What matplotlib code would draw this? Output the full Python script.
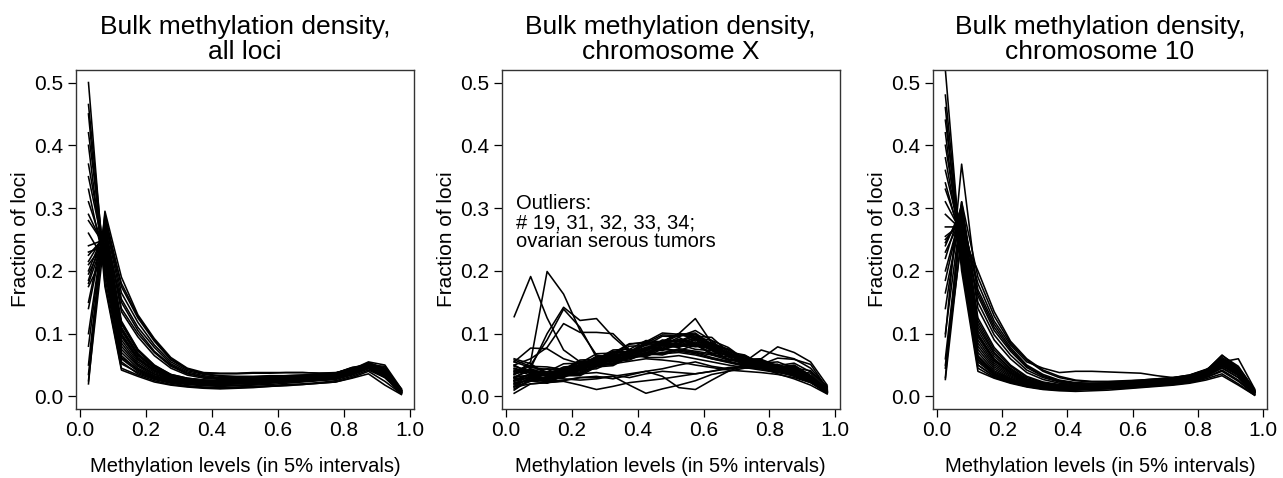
import numpy as np
import matplotlib
matplotlib.use('Agg')
import matplotlib.pyplot as plt

plt.rcParams['font.family'] = ['Liberation Sans', 'DejaVu Sans']

# bin centres (5% intervals)
levels = [0.025, 0.075, 0.125, 0.175, 0.225, 0.275, 0.325, 0.375, 0.425, 0.475,
          0.525, 0.575, 0.625, 0.675, 0.725, 0.775, 0.825, 0.875, 0.925, 0.975]

titles = ['Bulk methylation density,\nall loci',
          'Bulk methylation density,\nchromosome X',
          'Bulk methylation density,\nchromosome 10']

# fraction of loci per bin, one row per sample
all_loci = [
    [.500, .180, .045, .034, .025, .019, .016, .014, .013, .014, .015, .016, .018, .019, .021, .023, .030, .040, .024, .004],
    [.465, .200, .055, .036, .027, .021, .017, .015, .014, .015, .016, .017, .019, .020, .022, .025, .032, .042, .030, .005],
    [.450, .175, .042, .032, .023, .018, .015, .013, .012, .013, .014, .016, .017, .019, .021, .023, .029, .036, .018, .003],
    [.420, .215, .060, .040, .029, .023, .020, .019, .019, .020, .021, .022, .023, .024, .026, .028, .036, .047, .035, .006],
    [.400, .190, .052, .038, .028, .022, .019, .017, .016, .017, .018, .019, .021, .023, .025, .027, .034, .044, .032, .005],
    [.370, .220, .065, .042, .030, .024, .021, .020, .019, .020, .021, .022, .024, .025, .027, .029, .037, .049, .038, .007],
    [.350, .225, .070, .045, .032, .025, .022, .020, .020, .021, .022, .023, .024, .026, .027, .030, .038, .050, .048, .008],
    [.330, .205, .062, .043, .031, .024, .020, .018, .017, .018, .019, .021, .023, .024, .026, .028, .035, .046, .034, .006],
    [.310, .230, .075, .048, .033, .026, .023, .021, .021, .022, .023, .024, .025, .026, .028, .030, .039, .052, .042, .009],
    [.290, .235, .080, .050, .035, .027, .023, .022, .021, .022, .023, .024, .025, .027, .028, .031, .040, .051, .039, .008],
    [.280, .240, .085, .052, .036, .028, .024, .022, .022, .023, .024, .025, .026, .027, .029, .031, .041, .053, .044, .010],
    [.260, .215, .090, .055, .038, .029, .025, .023, .022, .023, .024, .025, .026, .028, .029, .032, .040, .050, .041, .009],
    [.240, .250, .095, .058, .040, .030, .026, .024, .023, .024, .025, .026, .027, .028, .030, .032, .042, .054, .045, .011],
    [.230, .240, .100, .062, .042, .031, .026, .024, .023, .024, .025, .026, .027, .029, .030, .033, .040, .048, .036, .007],
    [.225, .255, .105, .065, .044, .032, .027, .025, .024, .025, .026, .027, .028, .029, .031, .033, .043, .055, .050, .012],
    [.215, .260, .110, .068, .046, .033, .028, .025, .024, .025, .026, .027, .028, .030, .031, .034, .041, .047, .033, .006],
    [.210, .245, .098, .060, .041, .030, .025, .023, .022, .023, .024, .025, .027, .028, .029, .032, .038, .045, .030, .005],
    [.200, .265, .115, .072, .048, .034, .028, .026, .025, .026, .027, .028, .029, .030, .032, .034, .042, .050, .040, .009],
    [.195, .250, .105, .066, .045, .032, .027, .024, .023, .024, .025, .026, .027, .029, .030, .033, .039, .046, .035, .007],
    [.185, .270, .120, .075, .050, .035, .029, .026, .025, .026, .027, .028, .029, .030, .032, .035, .043, .052, .043, .010],
    [.180, .255, .108, .068, .046, .033, .028, .025, .024, .025, .026, .027, .028, .029, .031, .034, .041, .049, .037, .008],
    [.175, .230, .118, .074, .049, .035, .029, .026, .025, .026, .027, .028, .029, .031, .032, .035, .044, .052, .042, .010],
    [.150, .275, .135, .095, .065, .045, .034, .029, .027, .027, .028, .029, .030, .031, .032, .035, .043, .050, .040, .009],
    [.140, .270, .140, .100, .070, .048, .036, .031, .028, .028, .029, .030, .031, .032, .033, .036, .044, .048, .036, .007],
    [.100, .280, .155, .110, .078, .052, .039, .033, .030, .030, .030, .031, .032, .033, .034, .037, .045, .049, .034, .006],
    [.080, .285, .165, .118, .082, .055, .041, .035, .032, .031, .031, .032, .033, .034, .035, .037, .046, .050, .038, .008],
    [.050, .290, .175, .125, .088, .058, .043, .037, .036, .036, .037, .037, .038, .038, .037, .038, .043, .046, .036, .007],
    [.035, .280, .180, .128, .090, .060, .044, .036, .033, .032, .032, .033, .033, .034, .035, .037, .046, .051, .043, .010],
    [.020, .295, .190, .130, .092, .062, .045, .038, .037, .037, .038, .038, .038, .038, .037, .037, .044, .047, .045, .012],
    [.025, .260, .150, .105, .072, .050, .037, .031, .029, .029, .030, .031, .032, .033, .034, .036, .045, .049, .041, .009],
]

chr_x = [
    # outliers
    [.127, .191, .125, .074, .055, .050, .052, .056, .060, .058, .055, .050, .046, .042, .040, .038, .035, .030, .022, .006],
    [.035, .055, .199, .163, .105, .066, .060, .064, .070, .075, .072, .068, .060, .055, .050, .045, .040, .035, .025, .008],
    [.030, .045, .100, .142, .121, .124, .095, .072, .062, .062, .065, .060, .055, .050, .046, .042, .038, .033, .024, .006],
    [.040, .050, .090, .139, .110, .062, .055, .060, .066, .070, .074, .070, .062, .056, .050, .046, .042, .036, .026, .007],
    [.050, .060, .078, .116, .102, .102, .100, .074, .066, .068, .070, .066, .060, .054, .048, .044, .040, .034, .024, .006],
    [.055, .077, .076, .060, .052, .058, .065, .070, .078, .085, .090, .084, .074, .064, .056, .050, .046, .040, .030, .008],
    # main bundle
    [.030, .042, .031, .043, .046, .060, .061, .074, .073, .086, .081, .084, .066, .063, .050, .051, .041, .040, .025, .006],
    [.045, .038, .039, .040, .054, .055, .070, .069, .084, .082, .094, .081, .076, .058, .057, .047, .047, .037, .030, .007],
    [.020, .033, .027, .039, .041, .056, .057, .072, .072, .088, .088, .099, .076, .069, .055, .055, .043, .043, .027, .008],
    [.055, .046, .043, .041, .056, .057, .072, .071, .086, .084, .098, .094, .089, .066, .063, .051, .051, .039, .033, .009],
    [.010, .028, .025, .037, .039, .054, .055, .069, .069, .082, .078, .090, .074, .070, .054, .056, .044, .046, .030, .010],
    [.040, .041, .044, .043, .058, .059, .074, .075, .089, .087, .100, .096, .094, .071, .066, .051, .050, .037, .031, .006],
    [.025, .035, .027, .037, .037, .050, .051, .064, .063, .076, .073, .082, .069, .067, .055, .058, .047, .049, .033, .012],
    [.050, .036, .035, .033, .048, .049, .064, .065, .078, .077, .088, .085, .086, .067, .064, .049, .049, .037, .032, .007],
    [.015, .031, .029, .041, .043, .058, .059, .074, .075, .090, .087, .096, .081, .075, .059, .058, .047, .048, .031, .009],
    [.035, .044, .035, .047, .049, .064, .065, .080, .081, .096, .095, .105, .089, .078, .059, .055, .041, .041, .023, .005],
    [.028, .030, .035, .035, .050, .051, .066, .065, .078, .075, .084, .079, .081, .067, .065, .053, .055, .045, .041, .014],
    [.060, .052, .035, .045, .047, .061, .061, .074, .073, .084, .079, .083, .069, .067, .053, .053, .043, .045, .029, .010],
    [.022, .026, .031, .031, .045, .047, .062, .061, .074, .073, .084, .081, .083, .069, .055, .074, .066, .060, .045, .015],
    [.038, .048, .039, .052, .053, .068, .069, .084, .085, .098, .097, .099, .081, .075, .059, .060, .079, .070, .055, .018],
    [.032, .033, .037, .037, .051, .052, .066, .069, .084, .087, .100, .124, .085, .075, .057, .055, .043, .043, .025, .007],
    [.018, .029, .023, .035, .037, .051, .053, .067, .069, .083, .085, .093, .079, .071, .055, .055, .046, .050, .033, .011],
    [.048, .040, .039, .037, .052, .053, .070, .071, .086, .087, .100, .091, .085, .065, .061, .048, .048, .036, .030, .006],
    [.026, .036, .028, .040, .042, .056, .058, .072, .074, .086, .084, .093, .080, .074, .058, .057, .046, .047, .030, .009],
    [.042, .034, .036, .036, .050, .052, .066, .068, .082, .082, .091, .083, .079, .063, .061, .049, .051, .041, .037, .011],
    [.012, .025, .021, .033, .035, .049, .051, .065, .067, .081, .081, .091, .077, .071, .055, .053, .041, .041, .024, .005],
    [.036, .043, .033, .045, .047, .063, .067, .083, .087, .101, .099, .101, .083, .075, .059, .059, .049, .053, .039, .016],
    [.058, .048, .047, .043, .055, .055, .067, .067, .077, .075, .083, .075, .073, .059, .059, .051, .061, .059, .051, .013],
    [.024, .031, .023, .033, .033, .047, .049, .063, .065, .079, .079, .087, .073, .067, .053, .053, .042, .043, .027, .008],
    [.044, .037, .034, .038, .046, .050, .058, .062, .068, .066, .074, .070, .066, .058, .054, .046, .036, .028, .018, .004],
    [.016, .024, .028, .030, .042, .044, .056, .058, .070, .068, .076, .072, .068, .060, .052, .048, .040, .032, .022, .006],
    # low-middle samples
    [.005, .020, .022, .025, .030, .030, .032, .018, .005, .012, .018, .025, .035, .040, .045, .046, .042, .036, .026, .006],
    [.015, .020, .022, .024, .018, .011, .016, .022, .025, .028, .032, .036, .040, .044, .048, .046, .042, .036, .024, .005],
    [.025, .030, .030, .028, .026, .028, .032, .036, .040, .032, .014, .011, .026, .040, .050, .050, .046, .040, .030, .008],
    [.030, .034, .033, .034, .036, .038, .034, .030, .036, .040, .038, .036, .040, .046, .048, .047, .044, .040, .030, .009],
    [.020, .026, .024, .026, .030, .032, .028, .034, .040, .044, .050, .055, .048, .044, .046, .044, .040, .036, .028, .007],
]

chr_10 = [
    [.520, .210, .045, .030, .022, .016, .012, .010, .010, .011, .012, .013, .015, .017, .019, .022, .028, .036, .020, .002],
    [.480, .220, .050, .032, .023, .017, .013, .011, .011, .012, .013, .014, .016, .018, .020, .023, .030, .040, .024, .003],
    [.460, .200, .040, .029, .021, .015, .011, .009, .008, .009, .010, .012, .014, .016, .018, .021, .026, .033, .018, .002],
    [.440, .230, .055, .034, .024, .017, .013, .011, .011, .012, .013, .015, .017, .019, .021, .024, .032, .045, .030, .004],
    [.420, .215, .050, .032, .023, .016, .012, .011, .011, .012, .013, .014, .016, .018, .020, .023, .030, .042, .026, .003],
    [.400, .240, .060, .036, .025, .018, .014, .012, .012, .013, .014, .015, .017, .019, .022, .025, .033, .048, .034, .005],
    [.380, .235, .058, .035, .024, .017, .013, .012, .012, .013, .014, .015, .017, .019, .021, .025, .032, .046, .030, .004],
    [.360, .250, .065, .039, .027, .019, .015, .013, .013, .014, .015, .016, .018, .020, .022, .026, .034, .050, .036, .006],
    [.340, .245, .063, .037, .026, .018, .014, .013, .012, .013, .014, .016, .018, .020, .022, .026, .035, .052, .038, .006],
    [.330, .255, .070, .041, .028, .019, .015, .013, .013, .014, .015, .017, .019, .021, .023, .027, .036, .055, .040, .007],
    [.310, .260, .075, .044, .029, .020, .016, .014, .013, .014, .016, .017, .019, .021, .024, .028, .038, .058, .042, .008],
    [.290, .265, .080, .047, .031, .021, .016, .014, .014, .015, .016, .018, .020, .022, .024, .028, .037, .054, .039, .007],
    [.270, .270, .085, .050, .033, .022, .017, .015, .014, .015, .016, .018, .020, .022, .025, .029, .039, .060, .045, .009],
    [.255, .275, .090, .053, .035, .023, .017, .015, .015, .016, .017, .018, .020, .023, .025, .029, .038, .056, .040, .008],
    [.250, .280, .095, .056, .037, .024, .018, .016, .015, .016, .017, .019, .021, .023, .026, .030, .040, .062, .046, .010],
    [.245, .290, .100, .060, .039, .025, .019, .016, .015, .016, .018, .019, .021, .024, .026, .030, .039, .058, .044, .009],
    [.240, .300, .105, .064, .041, .026, .019, .017, .016, .017, .018, .020, .022, .024, .027, .031, .041, .065, .048, .011],
    [.230, .285, .098, .058, .038, .024, .018, .016, .015, .016, .017, .019, .021, .023, .026, .030, .038, .052, .035, .006],
    [.220, .305, .110, .068, .043, .027, .020, .017, .016, .017, .018, .020, .022, .025, .027, .031, .040, .055, .060, .012],
    [.200, .295, .115, .070, .045, .028, .021, .018, .017, .018, .019, .020, .022, .025, .027, .031, .039, .050, .034, .006],
    [.185, .300, .120, .074, .048, .030, .022, .018, .017, .018, .019, .021, .023, .025, .028, .032, .041, .057, .043, .009],
    [.165, .290, .125, .078, .050, .032, .023, .019, .018, .018, .019, .021, .023, .025, .028, .032, .040, .053, .038, .007],
    [.140, .310, .140, .090, .060, .038, .027, .021, .019, .019, .020, .021, .023, .025, .028, .032, .040, .052, .037, .007],
    [.100, .300, .150, .098, .066, .042, .030, .023, .020, .020, .021, .022, .024, .026, .028, .032, .041, .050, .034, .006],
    [.095, .370, .160, .105, .072, .046, .032, .024, .021, .020, .021, .022, .024, .026, .029, .033, .042, .055, .040, .008],
    [.060, .290, .170, .115, .078, .050, .035, .026, .022, .021, .021, .023, .025, .027, .029, .033, .041, .049, .033, .006],
    [.045, .280, .180, .120, .082, .055, .045, .038, .040, .040, .039, .038, .037, .033, .030, .033, .042, .051, .036, .007],
    [.030, .310, .190, .128, .085, .058, .040, .030, .025, .023, .023, .024, .026, .028, .030, .034, .043, .054, .039, .008],
    [.027, .260, .200, .135, .088, .060, .042, .032, .026, .024, .024, .025, .026, .028, .030, .034, .042, .050, .035, .007],
    [.050, .250, .165, .110, .075, .048, .033, .025, .021, .020, .021, .022, .024, .026, .028, .032, .040, .066, .045, .010],
]

panels = [all_loci, chr_x, chr_10]

fig = plt.figure(figsize=(12.83, 4.78), dpi=100)
lefts = [0.0592, 0.3910, 0.7272]
widths = [0.2634, 0.2634, 0.2603]

for i, curves in enumerate(panels):
    ax = fig.add_axes([lefts[i], 0.1444, widths[i], 0.7092])
    for c in curves:
        ax.plot(levels, c, color='black', lw=1.15)
    ax.set_xlim(-0.013, 1.013)
    ax.set_ylim(-0.02, 0.52)
    ax.set_xticks([0.0, 0.2, 0.4, 0.6, 0.8, 1.0])
    ax.set_yticks([0.0, 0.1, 0.2, 0.3, 0.4, 0.5])
    ax.xaxis.set_major_formatter(matplotlib.ticker.FormatStrFormatter('%.1f'))
    ax.yaxis.set_major_formatter(matplotlib.ticker.FormatStrFormatter('%.1f'))
    ax.tick_params(direction='out', length=5.5, width=0.9, labelsize=15, pad=3.5)
    for s in ax.spines.values():
        s.set_linewidth(1.0)
        s.set_color('#333333')
    ax.set_title(titles[i], fontsize=19, pad=8, linespacing=1.05)
    ax.set_ylabel('Fraction of loci', fontsize=15, labelpad=3)
    ax.set_xlabel('Methylation levels (in 5% intervals)', fontsize=14.5, labelpad=12)
    if i == 1:
        ax.text(0.03, 0.322, 'Outliers:\n# 19, 31, 32, 33, 34;\novarian serous tumors',
                fontsize=14.5, va='top', ha='left', linespacing=1.0)

plt.savefig('out.png', dpi=100)
